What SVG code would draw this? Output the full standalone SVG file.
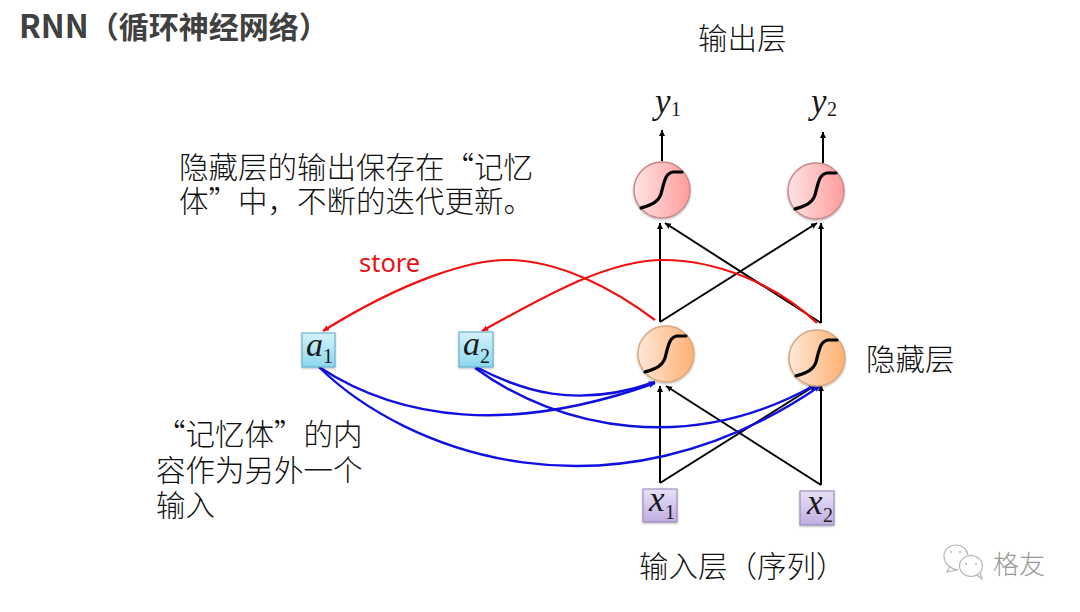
<svg xmlns="http://www.w3.org/2000/svg" width="1080" height="612" viewBox="0 0 1080 612">
  <style>
    .cjk { font-family: "Noto Sans CJK SC", "Liberation Sans", sans-serif; fill: #111; font-size: 29.5px; font-weight: 300; }
    .title { font-family: "Noto Sans CJK SC", "Liberation Sans", sans-serif; font-size: 30px; font-weight: 700; fill: #404040; }
    .var { font-family: "Liberation Serif", serif; font-style: italic; font-size: 35px; fill: #1a1a1a; }
    .sub { font-size: 20px; font-style: normal; }
    .bk { fill: none; stroke: #000; stroke-width: 2; marker-end: url(#ah-k); }
    .rd { fill: none; stroke: #f01010; stroke-width: 2.2; marker-end: url(#ah-r); }
    .bl { fill: none; stroke: #1010e0; stroke-width: 2.4; marker-end: url(#ah-b); }
    .red { fill: url(#g-red); stroke: #c88a8a; stroke-width: 1.5; filter: url(#sh); }
    .org { fill: url(#g-org); stroke: #d8a880; stroke-width: 1.5; filter: url(#sh); }
    .cyan { fill: url(#g-cyan); stroke: #58a8c8; stroke-width: 1; filter: url(#sh); }
    .pur { fill: url(#g-pur); stroke: #9080b8; stroke-width: 1; filter: url(#sh); }
    .sig { fill: none; stroke: #000; stroke-width: 3.2; stroke-linecap: round; }
  </style>
  <defs>
    <linearGradient id="g-red"><stop offset="0" stop-color="#ffe4e4"/><stop offset="1" stop-color="#ff9c9c"/></linearGradient>
    <linearGradient id="g-org"><stop offset="0" stop-color="#ffe8d8"/><stop offset="1" stop-color="#fdb070"/></linearGradient>
    <linearGradient id="g-cyan" x2="0" y2="1"><stop offset="0" stop-color="#d4f2fa"/><stop offset="1" stop-color="#8cd8ee"/></linearGradient>
    <linearGradient id="g-pur" x2="0" y2="1"><stop offset="0" stop-color="#e8e0f6"/><stop offset="1" stop-color="#bfaee2"/></linearGradient>
    <filter id="sh" x="-20%" y="-20%" width="140%" height="140%"><feDropShadow dx="0" dy="1" stdDeviation="1" flood-color="#000" flood-opacity="0.3"/></filter>
    <marker id="ah-k" markerUnits="userSpaceOnUse" markerWidth="7" markerHeight="7" refX="6" refY="3" orient="auto"><path d="M0 0L6 3L0 6z" fill="#000"/></marker>
    <marker id="ah-r" markerUnits="userSpaceOnUse" markerWidth="7" markerHeight="7" refX="6" refY="3" orient="auto"><path d="M0 0L6 3L0 6z" fill="#f01010"/></marker>
    <marker id="ah-b" markerUnits="userSpaceOnUse" markerWidth="7" markerHeight="7" refX="6" refY="3" orient="auto"><path d="M0 0L6 3L0 6z" fill="#1010e0"/></marker>
    <path id="sigmoid" d="M-21 18C-12 15 -4 13 -1 4C2 -7 3 -17 11 -18L20 -18"/>
  </defs>

  <text class="title" x="19" y="38"><tspan font-size="32">RNN</tspan>（循环神经网络）</text>
  <text class="cjk" x="698" y="49">输出层</text>
  <text class="cjk"><tspan x="179" y="178">隐藏层的输出保存在“记忆</tspan><tspan x="179" y="212">体”中，不断的迭代更新。</tspan></text>
  <text class="cjk" x="866" y="370">隐藏层</text>
  <text class="cjk"><tspan x="156" y="445">“记忆体”的内</tspan><tspan x="156" y="481">容作为另外一个</tspan><tspan x="156" y="516">输入</tspan></text>
  <text class="cjk" x="639" y="577">输入层（序列）</text>
  <text x="359" y="272" style="font-family:'Noto Sans',sans-serif;font-size:25.5px;fill:#e81010">store</text>

  <g id="connectors">
    <path class="bk" d="M662 161V130"/>
    <path class="bk" d="M823 163V132"/>
    <path class="bk" d="M660 322V223"/>
    <path class="bk" d="M660 322L817 223"/>
    <path class="bk" d="M821 323V223"/>
    <path class="bk" d="M821 323L665 223"/>
    <path class="bk" d="M660 483V386"/>
    <path class="bk" d="M660 483L816 385"/>
    <path class="bk" d="M821 485V385"/>
    <path class="bk" d="M821 485L666 386"/>
    <path class="rd" d="M655 320C615 290 560 260 507 260C470 260 405 280 323 331"/>
    <path class="rd" d="M817 323C775 283 715 260 663 260C610 260 550 293 482 331"/>
    <path class="bl" d="M319 367C400 420 510 435 655 383"/>
    <path class="bl" d="M319 367C405 452 610 530 820 386"/>
    <path class="bl" d="M476 367C520 390 575 410 655 382"/>
    <path class="bl" d="M475 368C560 430 690 455 815 385"/>
  </g>

  <g id="y1-node"><text class="var" x="655" y="113">y<tspan class="sub" x="671" y="116">1</tspan></text></g>
  <g id="y2-node"><text class="var" x="811" y="113">y<tspan class="sub" x="827" y="116">2</tspan></text></g>
  <g id="out1"><circle class="red" cx="662" cy="190" r="28"/><use href="#sigmoid" class="sig" x="662" y="190"/></g>
  <g id="out2"><circle class="red" cx="816" cy="191" r="28"/><use href="#sigmoid" class="sig" x="816" y="191"/></g>
  <g id="hid1"><circle class="org" cx="666" cy="354" r="28"/><use href="#sigmoid" class="sig" x="666" y="354"/></g>
  <g id="hid2"><circle class="org" cx="817" cy="358" r="28"/><use href="#sigmoid" class="sig" x="817" y="358"/></g>
  <g id="a1-node"><rect class="cyan" x="302" y="333" width="33" height="34"/><text class="var" x="306" y="356" font-size="34" style="font-size:34px">a<tspan class="sub" x="323" y="363">1</tspan></text></g>
  <g id="a2-node"><rect class="cyan" x="459" y="332" width="34" height="35"/><text class="var" x="463" y="355" style="font-size:34px">a<tspan class="sub" x="480" y="363">2</tspan></text></g>
  <g id="x1-node"><rect class="pur" x="643" y="489" width="34" height="33"/><text class="var" x="649" y="511">x<tspan class="sub" x="665" y="519">1</tspan></text></g>
  <g id="x2-node"><rect class="pur" x="800" y="491" width="34" height="34"/><text class="var" x="807" y="514">x<tspan class="sub" x="823" y="522">2</tspan></text></g>

  <g id="wechat-mark" fill="none" stroke="#b5b5b5" stroke-width="1.2">
    <path d="M958 570C950 569 944 563 944 556C944 549 950 545 956 545C962 545 967 549 968 555"/>
    <path d="M950 566L947 572L957 570"/>
    <ellipse cx="971" cy="566" rx="11.5" ry="10.5"/>
    <path d="M977 575L982 579L980 572"/>
    <g fill="#b5b5b5" stroke="none">
      <circle cx="951" cy="552" r="1"/><circle cx="960" cy="552" r="1"/>
      <circle cx="966" cy="564" r="1"/><circle cx="976" cy="564" r="1"/>
    </g>
    <text x="993" y="574" style="font-family:'Noto Sans CJK SC',sans-serif;font-size:26px;font-weight:300;fill:#9a9a9a;stroke:none">格友</text>
  </g>
</svg>
